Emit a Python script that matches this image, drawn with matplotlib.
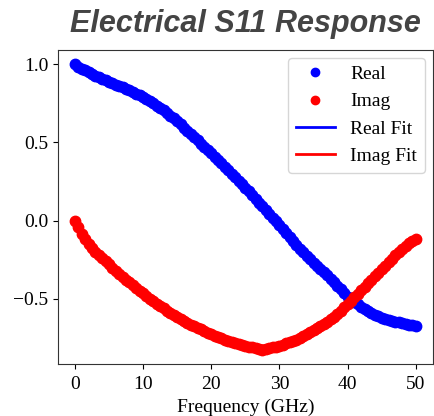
import numpy as np
import matplotlib
matplotlib.use("Agg")
import matplotlib.pyplot as plt
from matplotlib.lines import Line2D

# Frequency sweep (GHz)
freq = np.arange(0, 50.5, 0.5)

real_vals = [
    1.000, 0.985, 0.970, 0.962, 0.950, 0.938, 0.926, 0.915, 0.905, 0.897,
    0.888, 0.879, 0.870, 0.862, 0.853, 0.843, 0.833, 0.823, 0.812, 0.800,
    0.788, 0.776, 0.763, 0.749, 0.735, 0.720, 0.705, 0.688, 0.670, 0.653,
    0.635, 0.615, 0.595, 0.575, 0.555, 0.535, 0.515, 0.492, 0.470, 0.450,
    0.430, 0.410, 0.390, 0.367, 0.345, 0.322, 0.300, 0.277, 0.255, 0.232,
    0.210, 0.187, 0.165, 0.140, 0.115, 0.092, 0.070, 0.045, 0.020, -0.005,
    -0.030, -0.055, -0.080, -0.105, -0.130, -0.155, -0.180, -0.202, -0.225, -0.248,
    -0.270, -0.290, -0.310, -0.330, -0.350, -0.370, -0.390, -0.415, -0.440, -0.465,
    -0.490, -0.505, -0.520, -0.535, -0.550, -0.565, -0.580, -0.590, -0.600, -0.610,
    -0.620, -0.628, -0.635, -0.640, -0.645, -0.650, -0.655, -0.660, -0.665, -0.670,
    -0.675,
]

imag_vals = [
    0.000, -0.040, -0.085, -0.120, -0.150, -0.175, -0.200, -0.220, -0.240, -0.260,
    -0.280, -0.300, -0.320, -0.340, -0.360, -0.378, -0.395, -0.413, -0.430, -0.448,
    -0.465, -0.483, -0.500, -0.515, -0.530, -0.545, -0.560, -0.575, -0.590, -0.603,
    -0.615, -0.628, -0.640, -0.653, -0.665, -0.675, -0.685, -0.695, -0.705, -0.715,
    -0.725, -0.735, -0.745, -0.753, -0.760, -0.768, -0.775, -0.783, -0.790, -0.795,
    -0.800, -0.805, -0.810, -0.815, -0.820, -0.825, -0.820, -0.815, -0.810, -0.805,
    -0.800, -0.793, -0.785, -0.778, -0.770, -0.760, -0.750, -0.738, -0.725, -0.713,
    -0.700, -0.688, -0.675, -0.660, -0.645, -0.630, -0.615, -0.595, -0.575, -0.555,
    -0.535, -0.513, -0.490, -0.468, -0.445, -0.423, -0.400, -0.378, -0.355, -0.333,
    -0.310, -0.288, -0.265, -0.243, -0.220, -0.200, -0.180, -0.163, -0.145, -0.130,
    -0.115,
]

fit_freq = [0, 5, 10, 15, 20, 25, 30, 35, 40, 45, 50]
real_fit = [1.0, 0.89, 0.79, 0.635, 0.43, 0.21, -0.03, -0.27, -0.49, -0.62, -0.675]
imag_fit = [0.0, -0.28, -0.465, -0.615, -0.725, -0.80, -0.80, -0.70, -0.535, -0.31, -0.115]

x_ticks = [0, 10, 20, 30, 40, 50]
y_ticks = [-0.5, 0.0, 0.5, 1.0]

serif = ["Liberation Serif", "DejaVu Serif"]
FS = 14

fig = plt.figure(figsize=(4.35, 4.16), dpi=100)
ax = fig.add_axes([0.133, 0.125, 0.862, 0.755])

ax.plot(fit_freq, real_fit, color="blue", lw=2, zorder=1)
ax.plot(fit_freq, imag_fit, color="red", lw=2, zorder=1)
ax.plot(freq, real_vals, "o", color="blue", ms=7.5, zorder=2)
ax.plot(freq, imag_vals, "o", color="red", ms=7.5, zorder=2)

handles = [
    Line2D([], [], marker="o", ls="none", color="blue", ms=6),
    Line2D([], [], marker="o", ls="none", color="red", ms=6),
    Line2D([], [], color="blue", lw=2),
    Line2D([], [], color="red", lw=2),
]
leg = ax.legend(handles, ["Real", "Imag", "Real Fit", "Imag Fit"],
                loc="upper right", prop={"family": serif, "size": FS},
                borderaxespad=0.4)

ax.set_xticks(x_ticks)
ax.set_yticks(y_ticks)
ax.tick_params(axis="x", pad=5)
for lab in ax.get_xticklabels() + ax.get_yticklabels():
    lab.set_fontfamily(serif)
    lab.set_fontsize(FS)
ax.set_xlabel("Frequency (GHz)", family=serif, fontsize=FS, labelpad=4)
for s in ax.spines.values():
    s.set_color("#333333")

fig.text(0.564, 0.942, "Electrical S11 Response", ha="center", va="center",
         family=["Liberation Sans", "DejaVu Sans"], fontweight="bold",
         fontstyle="italic", fontsize=22, color="#444444")

fig.savefig("out.png", dpi=100)
